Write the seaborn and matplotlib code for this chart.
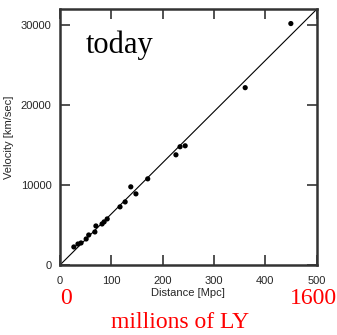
import matplotlib
matplotlib.use("Agg")
import matplotlib.pyplot as plt
import matplotlib.transforms as mtransforms
import numpy as np
import pandas as pd
import seaborn as sns

# Galaxy distances (Mpc) and recession velocities (km/s)
distance = [27, 35, 41, 51, 56, 68, 70, 82, 86, 92, 117, 127, 138, 148,
            171, 226, 234, 244, 361, 450]
velocity = [2260, 2630, 2760, 3260, 3760, 4140, 4890, 5140, 5400, 5770,
            7280, 7900, 9790, 8910, 10790, 13800, 14810, 14930, 22210, 30240]

# Hubble-law fit line
fit_distance = [0, 500]
fit_velocity = [0, 32000]

x_ticks = [0, 100, 200, 300, 400, 500]
y_ticks = [0, 10000, 20000, 30000]
ly_labels = ["0", "1600"]
ly_positions = [12, 494]

sns.set_style("ticks")
plt.rcParams["font.family"] = ["Liberation Sans", "DejaVu Sans"]

fig = plt.figure(figsize=(3.37, 3.35), dpi=100)
ax = fig.add_axes([60 / 337, 1 - 265 / 335, 256.5 / 337, 255.5 / 335])

pts = pd.DataFrame({"d": distance, "v": velocity})
fit = pd.DataFrame({"d": fit_distance, "v": fit_velocity})

sns.lineplot(data=fit, x="d", y="v", ax=ax, color="black", lw=0.8)
sns.scatterplot(data=pts, x="d", y="v", ax=ax, color="black", s=14,
                edgecolor="none", zorder=3)

ax.set_xlim(0, 500)
ax.set_ylim(0, 32000)
ax.set_xticks(x_ticks)
ax.set_yticks(y_ticks)
ax.set_xticklabels([str(t) for t in x_ticks])
ax.set_yticklabels([str(t) for t in y_ticks])
ax.tick_params(direction="in", length=7, width=1.2, color="#333333",
               top=True, right=True, labelsize=8)
ax.tick_params(axis="x", pad=8)
ax.tick_params(axis="y", pad=6)
for s in ax.spines.values():
    s.set_visible(True)
    s.set_linewidth(1.8)
    s.set_color("#333333")

ax.set_xlabel("Distance [Mpc]", fontsize=8, labelpad=1)
ax.set_ylabel("Velocity [km/sec]", fontsize=8, labelpad=5)

ax.text(0.1, 0.86, "today", transform=ax.transAxes, fontsize=22,
        family="Liberation Serif", color="black", va="center")

trans = mtransforms.blended_transform_factory(ax.transData, fig.transFigure)
for pos, lab in zip(ly_positions, ly_labels):
    ax.text(pos, 1 - 298 / 335, lab,
            transform=trans, ha="center", va="center", fontsize=17,
            family="Liberation Serif", color="red")
fig.text(180 / 337, 1 - 323 / 335, "millions of LY", ha="center",
         va="center", fontsize=17, family="Liberation Serif", color="red")

fig.savefig("out.png", dpi=100)
